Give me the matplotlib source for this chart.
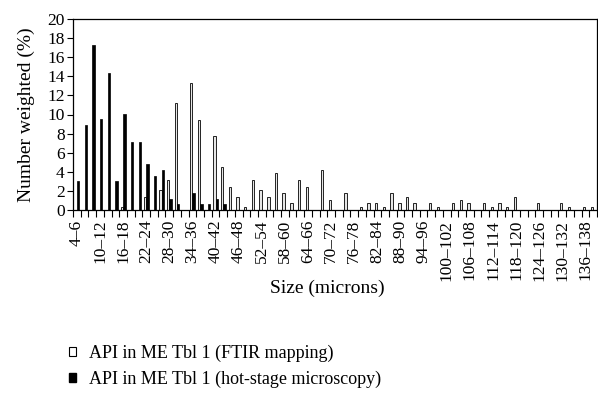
import matplotlib
matplotlib.use("Agg")
import matplotlib.pyplot as plt
from matplotlib.patches import Patch
import numpy as np

plt.rcParams['font.family'] = ['Liberation Serif', 'DejaVu Serif']

# categories 4-6 ... 138-140
lows = list(range(4, 140, 2))
categories = [f"{a}\u2013{a+2}" for a in lows]

ftir = [0, 0, 0, 0, 0, 0, 0.35, 0, 0, 1.4,
        0, 2.1, 3.15, 11.2, 0, 13.3, 9.45, 0, 7.7, 4.55,
        2.45, 1.4, 0.35, 3.15, 2.1, 1.4, 3.85, 1.75, 0.7, 3.15,
        2.45, 0, 4.2, 1.05, 0, 1.75, 0, 0.35, 0.7, 0.7,
        0.35, 1.75, 0.7, 1.4, 0.7, 0, 0.7, 0.35, 0, 0.7,
        1.05, 0.7, 0, 0.7, 0.35, 0.7, 0.35, 1.4, 0, 0,
        0.7, 0, 0, 0.7, 0.35, 0, 0.35, 0.35]

hotstage = [3.0, 8.9, 17.3, 9.5, 14.3, 3.0, 10.1, 7.1, 7.1, 4.8,
            3.6, 4.2, 1.2, 0.6, 0, 1.8, 0.6, 0.6, 1.2, 0.6] + [0] * 48

series_names = ["API in ME Tbl 1 (FTIR mapping)",
                "API in ME Tbl 1 (hot-stage microscopy)"]

fig = plt.figure(figsize=(5.98, 3.93), dpi=100)
ax = fig.add_axes([73/598, 1-210/393, (597-73)/598, (210-19)/393])

x = np.arange(len(categories))
w = 0.32
ax.bar(x - w/2, ftir, width=w, facecolor='#e6e6e6', edgecolor='#222222', linewidth=0.7)
ax.bar(x + w/2, hotstage, width=w, facecolor='black', edgecolor='black', linewidth=0.5)

ax.set_xlim(-0.5, len(categories) - 0.5)
ax.set_ylim(0, 20)
ax.set_yticks(range(0, 21, 2))
ax.tick_params(axis='y', direction='out', length=4, width=0.8, labelsize=12.5, pad=2)

ax.set_xticks(x[::3])
ax.set_xticklabels(categories[::3], rotation=90, fontsize=12.5)
ax.set_xticks(np.arange(-0.5, len(categories), 1), minor=True)
ax.tick_params(axis='x', which='major', length=0, pad=7)
ax.tick_params(axis='x', which='minor', direction='out', length=5, width=0.8)

for s in ax.spines.values():
    s.set_linewidth(0.9)

ax.set_ylabel("Number weighted (%)", fontsize=14, labelpad=9)
fig.text(327/598, 1-288/393, "Size (microns)", ha='center', va='center', fontsize=14)

handles = [Patch(facecolor='white', edgecolor='black', linewidth=0.8),
           Patch(facecolor='black', edgecolor='black')]
fig.legend(handles, series_names, loc='upper left', bbox_to_anchor=(69/598, 1-345/393),
           frameon=False, fontsize=13, handlelength=0.4, handleheight=0.4,
           handletextpad=0.7, labelspacing=0.45, borderaxespad=0, borderpad=0)

fig.savefig("out.png", dpi=100)
